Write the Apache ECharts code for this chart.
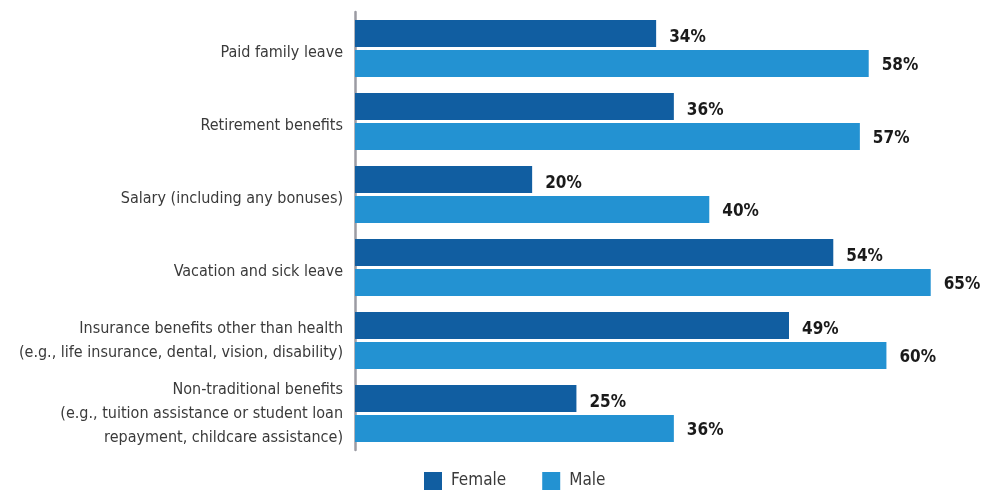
<!DOCTYPE html>
<html>
<head>
<meta charset="utf-8">
<script src="https://cdn.jsdelivr.net/npm/echarts@6/dist/echarts.min.js"></script>
<style>
  html, body { margin: 0; padding: 0; background: #fff; }
  #chart { width: 989px; height: 494px; }
</style>
</head>
<body>
<div id="chart"></div>
<script>
// Benefit categories, top to bottom
const categories = [
  'Paid family leave',
  'Retirement benefits',
  'Salary (including any bonuses)',
  'Vacation and sick leave',
  'Insurance benefits other than health\n(e.g., life insurance, dental, vision, disability)',
  'Non-traditional benefits\n(e.g., tuition assistance or student loan\nrepayment, childcare assistance)'
];
// Share of respondents (%)
const female = [34, 36, 20, 54, 49, 25];
const male = [58, 57, 40, 65, 60, 36];

const FONT = '"DejaVu Sans Condensed", "DejaVu Sans", sans-serif';
const LABEL_COLOR = '#3a3a3a';

const valueLabel = (dy) => ({
  show: true,
  position: 'right',
  distance: 13,
  offset: [0, dy],
  formatter: '{c}%',
  fontFamily: FONT,
  fontWeight: 'bold',
  fontSize: 17,
  color: '#1a1a1a'
});

const chart = echarts.init(document.getElementById('chart'));
chart.setOption({
  animation: false,
  textStyle: { fontFamily: FONT },
  grid: { left: 355, top: 12, width: 620, bottom: 44, containLabel: false },
  legend: {
    top: 472,
    left: 424,
    padding: 0,
    itemWidth: 18,
    itemHeight: 18,
    itemGap: 36,
    icon: 'rect',
    textStyle: { fontFamily: FONT, fontSize: 17, color: LABEL_COLOR, padding: [0, 0, 0, 4] },
    data: ['Female', 'Male']
  },
  xAxis: {
    type: 'value',
    min: 0,
    max: 70,
    show: false
  },
  yAxis: {
    type: 'category',
    inverse: true,
    data: categories,
    axisLine: { show: true, lineStyle: { color: '#9b9ba3', width: 2.5 } },
    axisTick: { show: false },
    axisLabel: {
      fontFamily: FONT,
      fontSize: 16,
      color: LABEL_COLOR,
      lineHeight: 24,
      margin: 12,
      align: 'right',
      // single-line labels sit a little below the band centre
      formatter: (v) => v.indexOf('\n') < 0 ? '{one|' + v + '}' : v,
      rich: {
        one: {
          fontFamily: FONT,
          fontSize: 16,
          color: LABEL_COLOR,
          padding: [8, 0, 0, 0]
        }
      }
    }
  },
  series: [
    {
      name: 'Female',
      type: 'bar',
      data: female,
      barWidth: 27,
      barGap: '11%',
      itemStyle: { color: '#115ea1' },
      label: valueLabel(4)
    },
    {
      name: 'Male',
      type: 'bar',
      data: male,
      barWidth: 27,
      itemStyle: { color: '#2392d2' },
      label: valueLabel(2)
    }
  ]
});
</script>
</body>
</html>
